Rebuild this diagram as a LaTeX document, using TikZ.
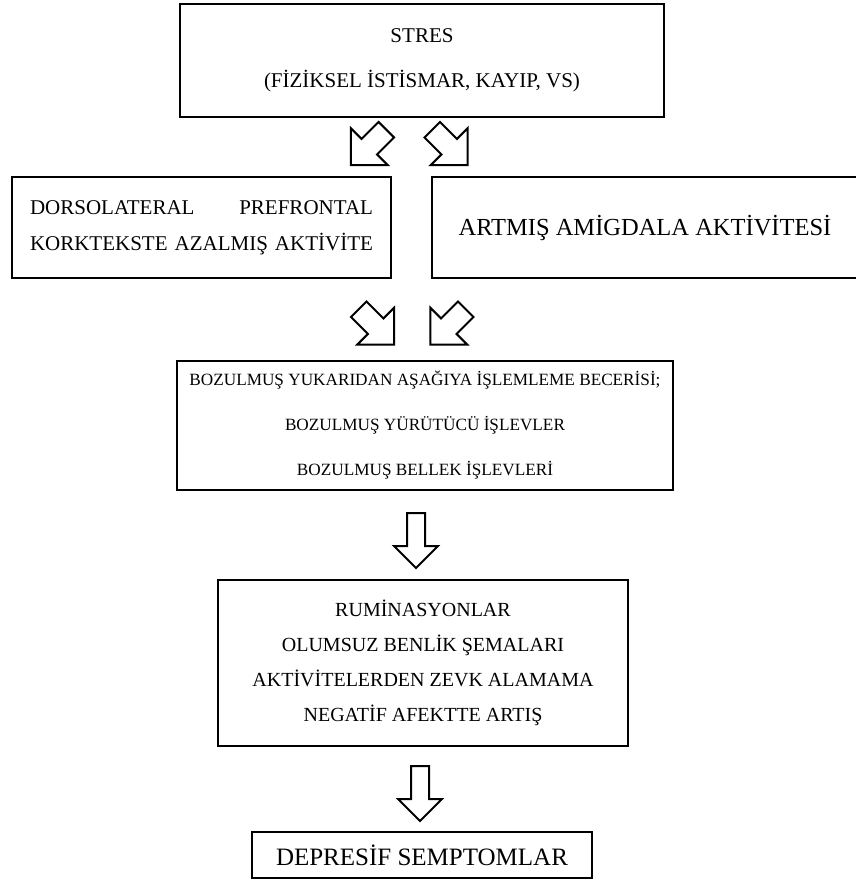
\documentclass[tikz,border=0pt]{standalone}
\usepackage{fontspec}
\setmainfont{Liberation Serif}
\usetikzlibrary{shapes.arrows}
\usetikzlibrary{positioning}

\tikzset{
  kutu/.style={draw=black, line width=2.6pt, rectangle, inner sep=0pt, align=center},
  okblok/.style={single arrow, draw=black, line width=2pt, fill=white,
                 outer sep=0pt, single arrow tip angle=90},
  capraz/.style={inner sep=10pt, minimum height=50pt, minimum width=50pt, single arrow head extend=15pt},
  asagi/.style={inner sep=8pt, minimum height=55pt, minimum width=44pt, single arrow head extend=13pt, rotate=-90}
}

\begin{document}
\begin{tikzpicture}[x=1pt,y=-1pt]
	\useasboundingbox (0,0) rectangle (855,882);
	\begin{scope}[every node/.style={kutu}]
		\node[minimum width=484pt, minimum height=113pt, font=\fontsize{21}{45}\selectfont] (stres) at (422,60.5)
			{STRES\\(FİZİKSEL İSTİSMAR, KAYIP, VS)};
		\node[minimum width=379pt, minimum height=101pt, text width=343pt, align=left,
		      font=\fontsize{21}{36}\selectfont] (dlpfc) at (201.5,227.5)
			{DORSOLATERAL\hfill PREFRONTAL\\KORKTEKSTE AZALMIŞ AKTİVİTE};
		\node[minimum width=426pt, minimum height=101pt, font=\fontsize{24.5}{30}\selectfont] (amigdala) at (645,227.5)
			{ARTMIŞ AMİGDALA AKTİVİTESİ};
		\node[minimum width=496pt, minimum height=129pt, font=\fontsize{17.2}{45}\selectfont] (isleme) at (425,425.5)
			{BOZULMUŞ YUKARIDAN AŞAĞIYA İŞLEMLEME BECERİSİ;\\BOZULMUŞ YÜRÜTÜCÜ İŞLEVLER\\BOZULMUŞ BELLEK İŞLEVLERİ};
		\node[minimum width=410pt, minimum height=166pt, font=\fontsize{20}{35}\selectfont] (ruminasyon) at (423,663)
			{RUMİNASYONLAR\\OLUMSUZ BENLİK ŞEMALARI\\AKTİVİTELERDEN ZEVK ALAMAMA\\NEGATİF AFEKTTE ARTIŞ};
		\node[minimum width=340pt, minimum height=46pt, font=\fontsize{25}{30}\selectfont] (depresif) at (422,855)
			{DEPRESİF SEMPTOMLAR};
	\end{scope}
	% block arrows between the boxes
	\begin{scope}[every node/.style={okblok}]
		\node[capraz, rotate=-135] (ok1) at (372.5,143.5) {};
		\node[capraz, rotate=-45] (ok2) at (446,143.5) {};
		\node[capraz, rotate=-45] (ok3) at (372.5,323) {};
		\node[capraz, rotate=-135] (ok4) at (452,323) {};
		\node[asagi] (ok5) at (416,536) {};
		\node[asagi] (ok6) at (420,789) {};
	\end{scope}
\end{tikzpicture}
\end{document}
